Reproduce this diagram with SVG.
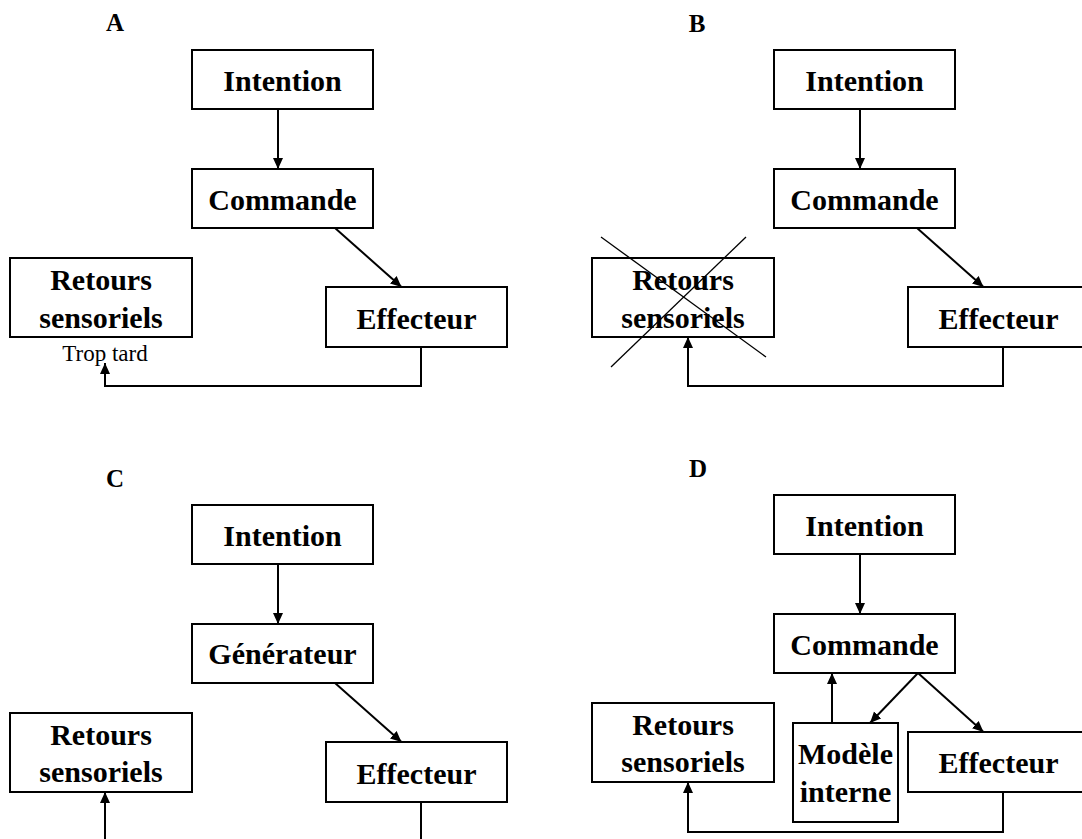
<svg xmlns="http://www.w3.org/2000/svg" width="1082" height="839" viewBox="0 0 1082 839">
<style>
.box{fill:#fff;stroke:#000;stroke-width:2}
.t{font-family:"Liberation Serif","Times New Roman",serif;font-weight:bold;font-size:30px;text-anchor:middle;fill:#000}
.lbl{font-family:"Liberation Serif","Times New Roman",serif;font-weight:bold;font-size:25px;text-anchor:middle;fill:#000}
.small{font-family:"Liberation Serif","Times New Roman",serif;font-size:23px;text-anchor:middle;fill:#000}
.c{fill:none;stroke:#000;stroke-width:2}
.x{stroke:#000;stroke-width:1.3}
</style>
<defs>
<marker id="ah" markerUnits="userSpaceOnUse" markerWidth="12" markerHeight="11" refX="11" refY="5" orient="auto">
<path d="M0,0 L11,5 L0,10 z" fill="#000"/>
</marker>
</defs>
<rect width="1082" height="839" fill="#fff"/>
<g id="labels">
<text class="lbl" x="115" y="31">A</text>
<text class="lbl" x="697" y="32">B</text>
<text class="lbl" x="115" y="487">C</text>
<text class="lbl" x="698" y="477">D</text>
</g>
<g id="connectors">
<line class="c" x1="278" y1="109" x2="278" y2="169" marker-end="url(#ah)"/>
<line class="c" x1="335" y1="228" x2="401.5" y2="287" marker-end="url(#ah)"/>
<polyline class="c" points="421,347 421,386 105,386 105,363" marker-end="url(#ah)"/>
<line class="c" x1="860" y1="109" x2="860" y2="169" marker-end="url(#ah)"/>
<line class="c" x1="917" y1="228" x2="983.5" y2="287" marker-end="url(#ah)"/>
<polyline class="c" points="1003,347 1003,386 688,386 688,337" marker-end="url(#ah)"/>
<line class="c" x1="278" y1="564" x2="278" y2="624" marker-end="url(#ah)"/>
<line class="c" x1="335" y1="683" x2="401.5" y2="742" marker-end="url(#ah)"/>
<line class="c" x1="105" y1="839" x2="105" y2="792" marker-end="url(#ah)"/>
<line class="c" x1="421" y1="802" x2="421" y2="839"/>
<line class="c" x1="860" y1="554" x2="860" y2="614" marker-end="url(#ah)"/>
<line class="c" x1="832" y1="723" x2="832" y2="673" marker-end="url(#ah)"/>
<line class="c" x1="918" y1="673" x2="870" y2="723" marker-end="url(#ah)"/>
<line class="c" x1="918" y1="673" x2="983.5" y2="732" marker-end="url(#ah)"/>
<polyline class="c" points="1003,792 1003,832 688,832 688,782" marker-end="url(#ah)"/>
</g>
<g id="A-intention"><rect class="box" x="192" y="50" width="181" height="59"/><text class="t" x="282.5" y="91">Intention</text></g>
<g id="A-commande"><rect class="box" x="192" y="169" width="181" height="59"/><text class="t" x="282.5" y="210">Commande</text></g>
<g id="A-retours"><rect class="box" x="10" y="258" width="182" height="79"/><text class="t" x="101" y="290">Retours</text><text class="t" x="101" y="328">sensoriels</text></g>
<g id="A-effecteur"><rect class="box" x="326" y="287" width="181" height="60"/><text class="t" x="416.5" y="329">Effecteur</text></g>
<g id="A-trop-tard"><text class="small" x="105" y="361">Trop tard</text></g>
<g id="B-intention"><rect class="box" x="774" y="50" width="181" height="59"/><text class="t" x="864.5" y="91">Intention</text></g>
<g id="B-commande"><rect class="box" x="774" y="169" width="181" height="59"/><text class="t" x="864.5" y="210">Commande</text></g>
<g id="B-retours"><rect class="box" x="592" y="258" width="182" height="79"/><text class="t" x="683" y="290">Retours</text><text class="t" x="683" y="328">sensoriels</text>
<line class="x" x1="601" y1="237" x2="766" y2="357"/><line class="x" x1="746" y1="237" x2="611" y2="367"/></g>
<g id="B-effecteur"><rect class="box" x="908" y="287" width="181" height="60"/><text class="t" x="998.5" y="329">Effecteur</text></g>
<g id="C-intention"><rect class="box" x="192" y="505" width="181" height="59"/><text class="t" x="282.5" y="546">Intention</text></g>
<g id="C-generateur"><rect class="box" x="192" y="624" width="181" height="59"/><text class="t" x="282.5" y="664">Générateur</text></g>
<g id="C-retours"><rect class="box" x="10" y="713" width="182" height="79"/><text class="t" x="101" y="745">Retours</text><text class="t" x="101" y="782">sensoriels</text></g>
<g id="C-effecteur"><rect class="box" x="326" y="742" width="181" height="60"/><text class="t" x="416.5" y="784">Effecteur</text></g>
<g id="D-intention"><rect class="box" x="774" y="495" width="181" height="59"/><text class="t" x="864.5" y="536">Intention</text></g>
<g id="D-commande"><rect class="box" x="774" y="614" width="181" height="59"/><text class="t" x="864.5" y="655">Commande</text></g>
<g id="D-retours"><rect class="box" x="592" y="703" width="182" height="79"/><text class="t" x="683" y="735">Retours</text><text class="t" x="683" y="772">sensoriels</text></g>
<g id="D-modele"><rect class="box" x="793" y="723" width="105" height="99"/><text class="t" x="845.5" y="764">Modèle</text><text class="t" x="845.5" y="802">interne</text></g>
<g id="D-effecteur"><rect class="box" x="908" y="732" width="181" height="60"/><text class="t" x="998.5" y="773">Effecteur</text></g>
</svg>
